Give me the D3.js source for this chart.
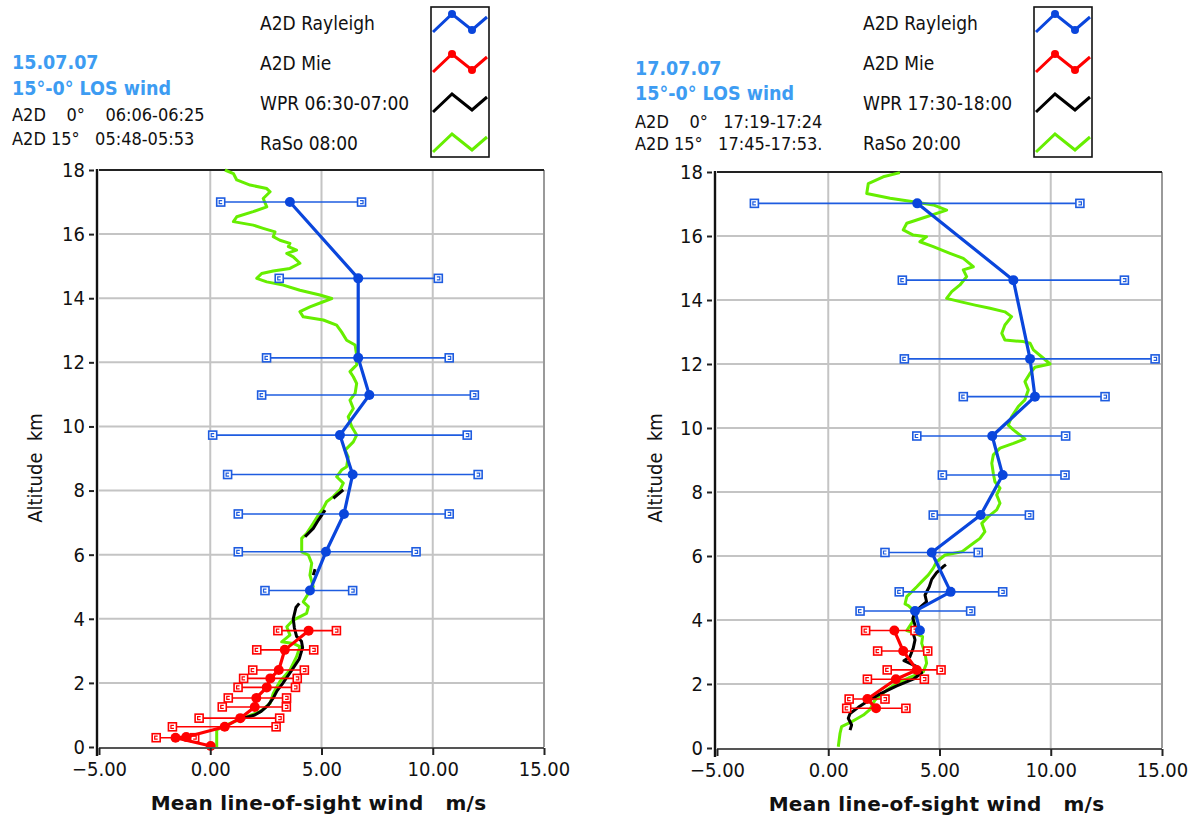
<!DOCTYPE html>
<html>
<head>
<meta charset="utf-8">
<script src="https://cdn.jsdelivr.net/npm/d3@7"></script>
<style>
  body { margin: 0; background: #fff; }
  svg { display: block; }
  text { font-family: "DejaVu Sans Condensed", "DejaVu Sans", sans-serif; }
</style>
</head>
<body>
<div id="chart"></div>
<script>
// axis ticks
var windTicks = [-5, 0, 5, 10, 15];
var altTicks = [0, 2, 4, 6, 8, 10, 12, 14, 16, 18];
var seriesNames = ['A2D Rayleigh', 'A2D Mie', null, 'RaSo'];

// ---- 15.07.07 ----
var l_rayAlt  = [17.00, 14.62, 12.14, 10.98, 9.73, 8.50, 7.27, 6.09, 4.88];
var l_rayWind = [3.58, 6.65, 6.65, 7.15, 5.83, 6.40, 6.01, 5.20, 4.48];
var l_rayLo   = [0.47, 3.10, 2.53, 2.31, 0.11, 0.78, 1.26, 1.26, 2.46];
var l_rayHi   = [6.80, 10.25, 10.74, 11.87, 11.55, 12.04, 10.74, 9.25, 6.40];

var l_mieAlt  = [3.63, 3.03, 2.40, 2.14, 1.86, 1.53, 1.25, 0.90, 0.63, 0.31, 0.29, 0.03];
var l_mieWind = [4.42, 3.35, 3.08, 2.70, 2.54, 2.07, 2.00, 1.35, 0.65, -1.08, -1.56, 0.02];
var l_mieLo   = [3.04, 2.09, 1.91, 1.50, 1.25, 0.81, 0.54, -0.50, -1.70, null, -2.43, null];
var l_mieHi   = [5.67, 4.65, 4.23, 3.91, 3.83, 3.43, 3.42, 3.12, 2.96, null, -0.70, null];

// WPR profile, null = gap
var l_wprWind = [1.45, 2.00, 2.30, 2.60, 2.85, 3.00, 3.25, 3.65, 4.00, 4.15, 4.10, 3.88, 3.78, 3.73, 3.85, 4.00, null,
                 4.63, 4.71, null, 4.26, 4.63, 4.86, 5.16, null, 5.53, 5.98];
var l_wprAlt  = [0.89, 1.00, 1.12, 1.30, 1.55, 1.75, 1.98, 2.38, 2.75, 3.10, 3.30, 3.45, 3.72, 4.00, 4.35, 4.48, null,
                 5.36, 5.55, null, 6.56, 6.82, 7.08, 7.39, null, 7.76, 8.02];

var l_rasoWind = [0.29, 0.29, 0.89, 1.64, 2.24, 2.69, 2.83, 3.13, 3.58, 3.88, 4.03, 3.73, 3.21, 3.58, 3.44, 3.73, 4.33, 4.41,
                  4.18, 4.41, 4.63, 4.48, 4.56, 4.41, 4.11, 4.11, 4.33, 4.63, 4.86, 5.08, 5.23, 5.53, 5.83, 5.98, 5.68,
                  5.90, 6.13, 6.20, 6.06, 6.43, 6.58, 6.36, 6.20, 6.43, 6.28, 6.51, 6.58, 6.43, 6.28, 6.58, 6.58, 6.51,
                  6.13, 5.90, 5.68, 5.08, 4.18, 4.03, 4.48, 5.08, 5.46, 4.93, 4.03, 3.28, 2.54, 2.09, 2.31, 2.83, 3.58,
                  4.03, 3.73, 3.44, 3.88, 3.51, 3.58, 3.13, 2.83, 2.91, 2.38, 1.93, 1.04, 1.19, 1.93, 2.54, 2.38, 2.69,
                  2.54, 1.79, 1.19, 1.04, 0.66];
var l_rasoAlt  = [0.00, 0.53, 0.74, 0.95, 1.10, 1.36, 1.67, 2.04, 2.40, 2.82, 3.13, 3.23, 3.28, 3.49, 3.75, 3.96, 4.17, 4.38,
                  4.53, 4.79, 5.00, 5.36, 5.73, 5.99, 6.09, 6.51, 6.66, 6.98, 7.24, 7.45, 7.65, 7.81, 8.02, 8.23, 8.43,
                  8.64, 8.74, 9.05, 9.26, 9.52, 9.73, 9.99, 10.30, 10.56, 10.82, 11.03, 11.34, 11.55, 11.71, 11.92, 12.23, 12.54,
                  12.69, 12.95, 13.16, 13.32, 13.42, 13.58, 13.73, 13.89, 13.99, 14.10, 14.25, 14.41, 14.51, 14.62, 14.77, 14.85, 14.93,
                  15.09, 15.29, 15.40, 15.50, 15.61, 15.71, 15.81, 15.92, 16.07, 16.18, 16.28, 16.39, 16.54, 16.70, 16.85, 17.11, 17.32,
                  17.42, 17.53, 17.69, 17.89, 18.00];

// ---- 17.07.07 ----
var r_rayAlt  = [17.02, 14.62, 12.16, 10.98, 9.75, 8.53, 7.28, 6.11, 4.88, 4.28, 3.67];
var r_rayWind = [4.00, 8.32, 9.07, 9.29, 7.37, 7.84, 6.85, 4.65, 5.50, 3.90, 4.12];
var r_rayLo   = [-3.32, 3.33, 3.42, 6.07, 3.98, 5.13, 4.72, 2.55, 3.19, 1.43, null];
var r_rayHi   = [11.31, 13.31, 14.69, 12.44, 10.67, 10.64, 9.04, 6.74, 7.84, 6.40, null];

var r_mieAlt  = [3.67, 3.03, 2.44, 2.15, 1.53, 1.24];
var r_mieWind = [2.97, 3.37, 3.98, 3.04, 1.76, 2.15];
var r_mieLo   = [1.68, 2.22, 2.65, 1.76, 0.94, 0.83];
var r_mieHi   = [3.90, 4.47, 5.07, 4.32, 2.55, 3.49];

var r_wprWind = [0.98, 1.05, 0.90, 0.98, 1.35, 1.80, 2.33, 3.08, 3.82, 4.20, 3.98, 3.60, 3.40, 3.67, 3.82, 3.90, 3.82, 3.90,
                 3.80, 3.90, 3.98, 4.42, 4.35, 4.54, 4.65, 4.87, 5.17, 5.29];
var r_wprAlt  = [0.56, 0.72, 0.93, 1.08, 1.27, 1.48, 1.69, 1.94, 2.15, 2.35, 2.54, 2.67, 2.73, 2.85, 3.12, 3.38, 3.58, 3.84,
                 4.05, 4.26, 4.31, 4.57, 4.78, 5.04, 5.27, 5.48, 5.67, 5.73];

var r_rasoWind = [0.45, 0.53, 0.60, 1.05, 1.58, 1.88, 2.10, 2.63, 3.08, 3.67, 4.27, 4.42, 4.35, 4.20, 4.24, 3.90, 3.53, 3.75,
                  3.98, 3.60, 3.45, 3.53, 3.98, 4.20, 4.50, 4.72, 4.87, 5.25, 6.00, 6.52, 6.82, 7.04, 6.90, 7.19, 7.57,
                  7.72, 7.57, 7.72, 7.49, 7.42, 7.35, 7.42, 7.72, 8.32, 8.84, 8.32, 8.09, 8.24, 8.54, 8.84, 8.99, 8.84,
                  9.07, 9.29, 9.97, 9.67, 9.22, 9.07, 8.77, 7.94, 7.80, 7.94, 8.24, 7.94, 7.27, 6.60, 5.92, 5.32, 5.55,
                  5.92, 6.22, 6.07, 6.52, 6.07, 5.47, 4.72, 4.12, 4.42, 3.82, 3.37, 3.53, 4.42, 5.32, 4.72, 3.82, 2.78,
                  1.73, 1.80, 2.47, 3.22];
var r_rasoAlt  = [0.04, 0.46, 0.67, 0.82, 1.03, 1.21, 1.50, 1.81, 2.02, 2.21, 2.38, 2.65, 2.96, 3.27, 3.48, 3.58, 3.67, 3.90,
                  4.21, 4.45, 4.50, 4.73, 5.04, 5.20, 5.41, 5.62, 5.82, 6.03, 6.13, 6.40, 6.55, 6.76, 7.02, 7.23, 7.44,
                  7.65, 7.91, 8.12, 8.32, 8.58, 8.90, 9.16, 9.37, 9.52, 9.66, 9.94, 10.09, 10.35, 10.67, 10.88, 11.19, 11.45,
                  11.71, 11.90, 12.00, 12.18, 12.44, 12.65, 12.70, 12.75, 12.96, 13.22, 13.48, 13.63, 13.74, 13.84, 13.95, 14.05, 14.26,
                  14.47, 14.73, 14.94, 15.04, 15.30, 15.46, 15.67, 15.82, 15.98, 16.03, 16.19, 16.40, 16.60, 16.81, 16.97, 17.07, 17.18,
                  17.33, 17.64, 17.85, 17.98];

var colRay = '#0a46dc', colRayBar = '#1e5ce0', colMie = '#ff0000', colWpr = '#000000', colRaso = '#66ee00';
var colTitle = '#3d9cf2';

var panels = [
  {
    x0: 99, x1: 544, yTop: 170, yBot: 747,
    titleX: 12, titleY: [69, 95, 121, 145],
    lines: ['15.07.07', '15\u00b0-0\u00b0 LOS wind', 'A2D\u00a0\u00a0\u00a0 0\u00b0\u00a0\u00a0\u00a0 06:06-06:25', 'A2D 15\u00b0\u00a0\u00a0 05:48-05:53'],
    legX: 260, boxX: 431, wpr: 'WPR 06:30-07:00', raso: 'RaSo 08:00', ylabX: 42,
    ray: [l_rayAlt, l_rayWind, l_rayLo, l_rayHi], mie: [l_mieAlt, l_mieWind, l_mieLo, l_mieHi],
    wprW: l_wprWind, wprA: l_wprAlt, rasoW: l_rasoWind, rasoA: l_rasoAlt
  },
  {
    x0: 717, x1: 1162, yTop: 172, yBot: 748,
    titleX: 635, titleY: [75, 100, 128, 150],
    lines: ['17.07.07', '15\u00b0-0\u00b0 LOS wind', 'A2D\u00a0\u00a0\u00a0 0\u00b0\u00a0\u00a0 17:19-17:24', 'A2D 15\u00b0\u00a0\u00a0 17:45-17:53.'],
    legX: 863, boxX: 1034, wpr: 'WPR 17:30-18:00', raso: 'RaSo 20:00', ylabX: 662,
    ray: [r_rayAlt, r_rayWind, r_rayLo, r_rayHi], mie: [r_mieAlt, r_mieWind, r_mieLo, r_mieHi],
    wprW: r_wprWind, wprA: r_wprAlt, rasoW: r_rasoWind, rasoA: r_rasoAlt
  }
];

var svg = d3.select('#chart').append('svg')
  .attr('width', 1194).attr('height', 816);
svg.append('rect').attr('width', 1194).attr('height', 816).attr('fill', '#fff');

function zip(a, b) {
  return a.map(function (v, i) { return v == null ? null : [v, b[i]]; });
}

function errorProfile(g, x, y, s, col, barCol) {
  var pts = s[0].map(function (a, i) { return {a: a, w: s[1][i], lo: s[2][i], hi: s[3][i]}; });
  var bars = pts.filter(function (d) { return d.lo != null; });
  g.selectAll(null).data(bars).enter().append('line')
    .attr('x1', function (d) { return x(d.lo); }).attr('x2', function (d) { return x(d.hi); })
    .attr('y1', function (d) { return y(d.a); }).attr('y2', function (d) { return y(d.a); })
    .attr('stroke', barCol).attr('stroke-width', 1.6);
  var caps = [];
  bars.forEach(function (d) { caps.push({w: d.lo, a: d.a, s: 1}); caps.push({w: d.hi, a: d.a, s: -1}); });
  var cg = g.selectAll(null).data(caps).enter().append('g')
    .attr('transform', function (d) { return 'translate(' + x(d.w) + ',' + y(d.a) + ')'; });
  cg.append('rect').attr('x', -4).attr('y', -4).attr('width', 8).attr('height', 8)
    .attr('fill', '#fff').attr('stroke', barCol).attr('stroke-width', 1.6);
  cg.append('path').attr('d', function (d) { return 'M' + (d.s * 1.5) + ',-1.5H' + (-d.s * 1.5) + 'V1.5H' + (d.s * 1.5); })
    .attr('fill', 'none').attr('stroke', barCol).attr('stroke-width', 1.2);
  g.append('path').datum(pts)
    .attr('d', d3.line().x(function (d) { return x(d.w); }).y(function (d) { return y(d.a); }))
    .attr('fill', 'none').attr('stroke', col).attr('stroke-width', 3.2).attr('stroke-linejoin', 'round');
  g.selectAll(null).data(pts).enter().append('circle')
    .attr('cx', function (d) { return x(d.w); }).attr('cy', function (d) { return y(d.a); })
    .attr('r', 5).attr('fill', col);
}

panels.forEach(function (p) {
  var x = d3.scaleLinear().domain([-5, 15]).range([p.x0, p.x1]);
  var y = d3.scaleLinear().domain([0, 18]).range([p.yBot, p.yTop]);
  var g = svg.append('g');

  // grid
  g.selectAll(null).data(windTicks.slice(1, -1)).enter().append('line')
    .attr('x1', x).attr('x2', x).attr('y1', p.yTop).attr('y2', p.yBot)
    .attr('stroke', '#c4c4c4').attr('stroke-width', 2);
  g.selectAll(null).data(altTicks.slice(1, -1)).enter().append('line')
    .attr('y1', y).attr('y2', y).attr('x1', p.x0).attr('x2', p.x1)
    .attr('stroke', '#c4c4c4').attr('stroke-width', 2);

  // frame
  g.append('line').attr('x1', p.x1).attr('x2', p.x1).attr('y1', p.yTop).attr('y2', p.yBot)
    .attr('stroke', '#9a9a9a').attr('stroke-width', 2);
  g.append('line').attr('x1', p.x0).attr('x2', p.x1).attr('y1', p.yTop).attr('y2', p.yTop)
    .attr('stroke', '#222').attr('stroke-width', 2);

  // series
  var line = d3.line().defined(function (d) { return d != null; })
    .x(function (d) { return x(d[0]); }).y(function (d) { return y(d[1]); });
  g.append('path').datum(zip(p.rasoW, p.rasoA)).attr('d', line)
    .attr('fill', 'none').attr('stroke', colRaso).attr('stroke-width', 3).attr('stroke-linejoin', 'round');
  g.append('path').datum(zip(p.wprW, p.wprA)).attr('d', line)
    .attr('fill', 'none').attr('stroke', colWpr).attr('stroke-width', 3).attr('stroke-linejoin', 'round');
  errorProfile(g, x, y, p.mie, colMie, colMie);
  errorProfile(g, x, y, p.ray, colRay, colRayBar);

  // axes
  var ax = d3.axisBottom(x).tickValues(windTicks).tickFormat(d3.format('.2f')).tickSize(7).tickPadding(7);
  var axG = svg.append('g').attr('transform', 'translate(0,' + (p.yBot + 1) + ')').call(ax);
  axG.select('.domain').attr('stroke', '#555').attr('stroke-width', 2).attr('d', 'M' + p.x0 + ',0H' + p.x1);
  axG.selectAll('.tick line').attr('stroke', '#222').attr('stroke-width', 2);
  axG.selectAll('text').attr('font-size', 20).attr('fill', '#111');

  var ay = d3.axisLeft(y).tickValues(altTicks).tickSize(8).tickPadding(4);
  var ayG = svg.append('g').attr('transform', 'translate(' + (p.x0 - 2) + ',0)').call(ay);
  ayG.select('.domain').attr('stroke', '#111').attr('stroke-width', 2.4).attr('d', 'M0,' + (p.yTop - 1) + 'V' + (p.yBot + 9));
  ayG.selectAll('.tick line').attr('stroke', '#222').attr('stroke-width', 2).attr('x2', -8).attr('x1', -3);
  ayG.selectAll('text').attr('font-size', 20).attr('fill', '#111');

  svg.append('text').attr('x', (p.x0 + p.x1) / 2 - 3).attr('y', p.yBot + 63)
    .attr('text-anchor', 'middle').attr('font-size', 20).attr('font-weight', 'bold').attr('fill', '#111')
    .style('font-family', '"DejaVu Sans", sans-serif').attr('letter-spacing', 0.3)
    .attr('xml:space', 'preserve').text('Mean line-of-sight wind   m/s');
  svg.append('text').attr('transform', 'translate(' + p.ylabX + ',' + 468 + ') rotate(-90)')
    .attr('text-anchor', 'middle').attr('font-size', 20).attr('fill', '#111')
    .attr('xml:space', 'preserve').text('Altitude  km');

  // title block
  p.lines.forEach(function (t, i) {
    svg.append('text').attr('x', p.titleX).attr('y', p.titleY[i])
      .attr('font-size', i < 2 ? 19.5 : 18).attr('font-weight', i < 2 ? 'bold' : 'normal')
      .attr('fill', i < 2 ? colTitle : '#111').text(t);
  });

  // legend
  var leg = [
    {name: seriesNames[0], col: colRay, dots: true},
    {name: seriesNames[1], col: colMie, dots: true},
    {name: p.wpr, col: colWpr, dots: false},
    {name: p.raso, col: colRaso, dots: false}
  ];
  var zig = [[2, 9], [21, -9], [41, 7], [56, -6]];
  svg.append('rect').attr('x', p.boxX).attr('y', 7).attr('width', 58).attr('height', 150)
    .attr('fill', '#fff').attr('stroke', '#111').attr('stroke-width', 1.6);
  leg.forEach(function (d, i) {
    var cy = 23 + i * 40;
    svg.append('text').attr('x', p.legX).attr('y', cy + 7).attr('font-size', 19).attr('fill', '#111').text(d.name);
    svg.append('path').attr('d', d3.line()(zig.map(function (q) { return [p.boxX + q[0], cy + q[1]]; })))
      .attr('fill', 'none').attr('stroke', d.col).attr('stroke-width', 3);
    if (d.dots) {
      [zig[1], zig[2]].forEach(function (q) {
        svg.append('circle').attr('cx', p.boxX + q[0]).attr('cy', cy + q[1]).attr('r', 4).attr('fill', d.col);
      });
    }
  });
});
</script>
</body>
</html>
